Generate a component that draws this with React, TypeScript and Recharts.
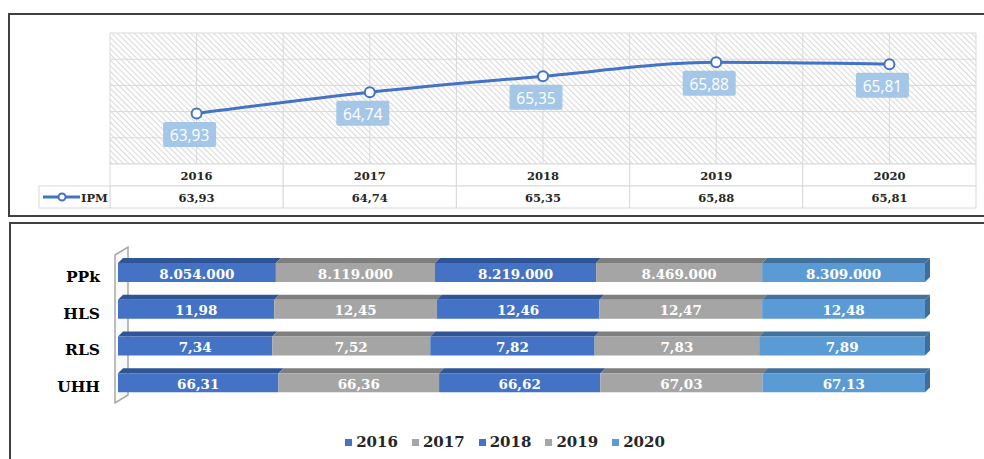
import React from 'react';
import {
  LineChart, Line, XAxis, YAxis, CartesianGrid, LabelList,
  BarChart, Bar, Legend, ReferenceArea,
} from 'recharts';

// ---------- data ----------
const years = ['2016', '2017', '2018', '2019', '2020'];
const ipmValues = [63.93, 64.74, 65.35, 65.88, 65.81];
const ipmTicks = [62, 63, 64, 65, 66, 67];
const ipmName = 'IPM';

const indicators = ['PPk', 'HLS', 'RLS', 'UHH'];
const v2016 = [8054000, 11.98, 7.34, 66.31];
const v2017 = [8119000, 12.45, 7.52, 66.36];
const v2018 = [8219000, 12.46, 7.82, 66.62];
const v2019 = [8469000, 12.47, 7.83, 67.03];
const v2020 = [8309000, 12.48, 7.89, 67.13];
const seriesValues = [v2016, v2017, v2018, v2019, v2020];

// ---------- style ----------
const LINE_COLOR = '#4472C4';
const seriesColors = ['#4472C4', '#A5A5A5', '#4472C4', '#A5A5A5', '#5B9BD5'];
const topColors = ['#2F5597', '#7F7F7F', '#2F5597', '#7F7F7F', '#41719C'];
const SERIF = '"DejaVu Serif", serif';

const fmt = (v: number) =>
  v >= 1000
    ? String(Math.round(v)).replace(/\B(?=(\d{3})+(?!\d))/g, '.')
    : v.toFixed(2).replace('.', ',');

// ---------- top chart layout ----------
const TOP_W = 984;
const TOP_H = 216;
const TOP_M = { top: 33, right: 8, left: 110, bottom: 8 };
const TABLE_ROW = 22;
const PLOT_W = TOP_W - TOP_M.left - TOP_M.right;
const CELL_W = PLOT_W / years.length;
const PLOT_BOTTOM = TOP_H - TOP_M.bottom - 2 * TABLE_ROW;

const lineData = years.map((y, i) => ({ year: y, ipm: ipmValues[i] }));

const TableTick = (props: any) => {
  const { x, payload } = props;
  const i = payload.index ?? years.indexOf(payload.value);
  const left = x - CELL_W / 2;
  const r1 = PLOT_BOTTOM;
  const r2 = PLOT_BOTTOM + TABLE_ROW;
  const textStyle = { fontFamily: SERIF, fontWeight: 700, fontSize: 11.5, fill: '#262626' } as any;
  return (
    <g>
      <rect x={left} y={r1} width={CELL_W} height={TABLE_ROW} fill="#fff" stroke="#d9d9d9" />
      <rect x={left} y={r2} width={CELL_W} height={TABLE_ROW} fill="#fff" stroke="#d9d9d9" />
      <text x={x} y={r1 + TABLE_ROW / 2 + 1} textAnchor="middle" dominantBaseline="central" style={textStyle}>
        {payload.value}
      </text>
      <text x={x} y={r2 + TABLE_ROW / 2 + 1} textAnchor="middle" dominantBaseline="central" style={textStyle}>
        {fmt(ipmValues[i])}
      </text>
      {i === 0 && (
        <g>
          <rect x={left - 71} y={r2} width={71} height={TABLE_ROW} fill="#fff" stroke="#d9d9d9" />
          <line x1={left - 67} x2={left - 30} y1={r2 + TABLE_ROW / 2} y2={r2 + TABLE_ROW / 2} stroke={LINE_COLOR} strokeWidth={3} />
          <circle cx={left - 48} cy={r2 + TABLE_ROW / 2} r={3.5} fill="#fff" stroke={LINE_COLOR} strokeWidth={2} />
          <text x={left - 29} y={r2 + TABLE_ROW / 2 + 1} dominantBaseline="central" style={textStyle}>
            {ipmName}
          </text>
        </g>
      )}
    </g>
  );
};

const BoxLabel = (props: any) => {
  const { x, y, value } = props;
  const w = 53;
  const h = 25;
  const cx = x - 7;
  const cy = y + 21;
  return (
    <g>
      <rect x={cx - w / 2} y={cy - h / 2} width={w} height={h} rx={2} fill="#9DC3E6" fillOpacity={0.92} />
      <text x={cx} y={cy + 1} textAnchor="middle" dominantBaseline="central" fill="#fff"
        style={{ fontFamily: '"Open Sans", sans-serif', fontSize: 15.5 }}>
        {fmt(Number(value))}
      </text>
    </g>
  );
};

// ---------- bottom chart layout ----------
const BOT_W = 984;
const BOT_H = 237;
const BOT_M = { top: 30, right: 59, left: 58, bottom: 60 };
const DEPTH = 5;

const barData = indicators.map((name, r) => {
  const row: any = { name };
  years.forEach((y, s) => { row['y' + y] = seriesValues[s][r]; });
  return row;
});

const makeShape = (s: number) => (props: any) => {
  const { x, y, width, height } = props;
  if (width == null || height == null) return null;
  const d = DEPTH;
  const last = s === years.length - 1;
  return (
    <g>
      <polygon
        points={`${x + d},${y} ${x + width + d},${y} ${x + width},${y + d} ${x},${y + d}`}
        fill={topColors[s]}
      />
      <rect x={x} y={y + d} width={width} height={height - d} fill={seriesColors[s]} />
      {last && (
        <polygon
          points={`${x + width},${y + d} ${x + width + d},${y} ${x + width + d},${y + height - d} ${x + width},${y + height}`}
          fill="#3F6E9A"
        />
      )}
    </g>
  );
};

const makeBarLabel = (s: number) => (props: any) => {
  const vb = props.viewBox || props;
  const { x, y, width, height } = vb;
  const idx = props.index;
  const v = seriesValues[s][idx];
  if (v == null) return null;
  return (
    <text x={x + width / 2} y={y + DEPTH + (height - DEPTH) / 2 + 1} textAnchor="middle" dominantBaseline="central"
      fill="#fff" style={{ fontFamily: SERIF, fontWeight: 700, fontSize: 13.5 }}>
      {fmt(v)}
    </text>
  );
};

const Wall = (props: any) => {
  const { x, y, height } = props;
  if (x == null) return null;
  const L = x;
  const T = y;
  const B = y + height;
  return (
    <polygon
      points={`${L - 3},${T + 3} ${L + 10},${T - 5} ${L + 10},${B - 4} ${L - 3},${B + 4}`}
      fill="#fafafa"
      stroke="#a6a6a6"
      strokeWidth={1.5}
    />
  );
};

const CatTick = (props: any) => (
  <text x={props.x} y={props.y + 6} textAnchor="end" dominantBaseline="central"
    style={{ fontFamily: SERIF, fontWeight: 700, fontSize: 15.5, fill: '#000' }}>
    {props.payload.value}
  </text>
);

const LegendContent = (props: any) => {
  const payload = props.payload || [];
  return (
    <div style={{ display: 'flex', justifyContent: 'center', gap: 14, fontFamily: SERIF, fontWeight: 700, fontSize: 15, color: '#262626' }}>
      {payload.map((p: any, i: number) => (
        <div key={i} style={{ display: 'flex', alignItems: 'center' }}>
          <span style={{ display: 'inline-block', width: 7, height: 7, background: p.color, marginRight: 4 }} />
          <span>{p.value}</span>
        </div>
      ))}
    </div>
  );
};

export default function App() {
  return (
    <div style={{ position: 'absolute', left: 0, top: 0, width: 984, height: 459, overflow: 'hidden', background: '#fff' }}>
      <div style={{ position: 'absolute', left: 8, top: 13, width: 1000, height: 204, border: '2px solid #404040', boxSizing: 'border-box' }} />
      <div style={{ position: 'absolute', left: 9, top: 222, width: 1000, height: 300, border: '2px solid #404040', boxSizing: 'border-box' }} />

      <div style={{ position: 'absolute', left: 0, top: 0 }}>
        <LineChart width={TOP_W} height={TOP_H} data={lineData} margin={TOP_M}>
          <defs>
            <pattern id="hatch" width="4" height="4" patternUnits="userSpaceOnUse" patternTransform="rotate(45)">
              <rect width="4" height="4" fill="#ffffff" />
              <line x1="0" y1="0" x2="4" y2="0" stroke="#cbcbcb" strokeWidth="1.5" />
            </pattern>
          </defs>
          <CartesianGrid
            fill="url(#hatch)"
            stroke="#d9d9d9"
            strokeWidth={1}
            verticalCoordinatesGenerator={({ offset }: any) =>
              Array.from({ length: years.length * 2 + 1 }, (_, k) => offset.left + (k * offset.width) / (years.length * 2))
            }
          />
          <XAxis dataKey="year" scale="band" interval={0} height={2 * TABLE_ROW} axisLine={false} tickLine={false} tick={<TableTick />} />
          <YAxis hide domain={[62, 67]} ticks={ipmTicks} />
          <Line
            type="monotone"
            dataKey="ipm"
            stroke={LINE_COLOR}
            strokeWidth={3}
            dot={{ r: 5, fill: '#fff', stroke: LINE_COLOR, strokeWidth: 2 }}
            isAnimationActive={false}
          >
            <LabelList dataKey="ipm" content={<BoxLabel />} />
          </Line>
        </LineChart>
      </div>

      <div style={{ position: 'absolute', left: 0, top: 222 }}>
        <BarChart width={BOT_W} height={BOT_H} data={barData} layout="vertical" stackOffset="expand" margin={BOT_M} barSize={24}>
          <XAxis type="number" hide domain={[0, 1]} />
          <YAxis type="category" dataKey="name" width={60} axisLine={false} tickLine={false} tickSize={0} tickMargin={18} tick={<CatTick />} />
          <ReferenceArea x1={0} x2={1} shape={<Wall />} ifOverflow="visible" />
          {years.map((y, s) => (
            <Bar key={y} dataKey={'y' + y} name={y} stackId="a" fill={seriesColors[s]} shape={makeShape(s)} isAnimationActive={false}>
              <LabelList dataKey={'y' + y} content={makeBarLabel(s)} />
            </Bar>
          ))}
          <Legend
            verticalAlign="middle"
            content={<LegendContent />}
            wrapperStyle={{ left: 0, width: 1010, top: 211 }}
          />
        </BarChart>
      </div>
    </div>
  );
}
